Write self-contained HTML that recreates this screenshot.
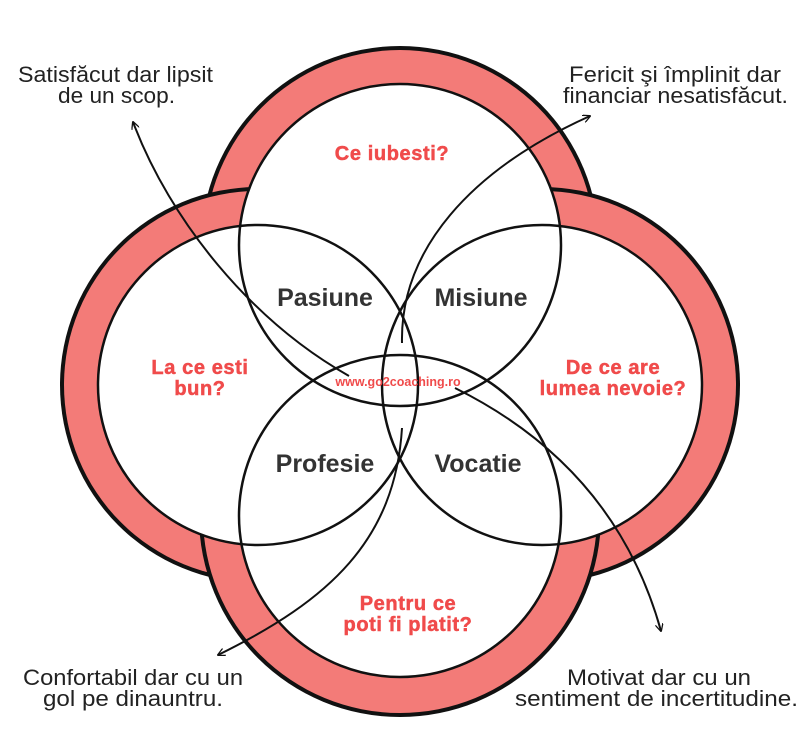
<!DOCTYPE html>
<html><head><meta charset="utf-8"><style>
html,body{margin:0;padding:0;background:#fff;}
svg{display:block;}
</style></head><body>
<svg width="800" height="742" viewBox="0 0 800 742" xmlns="http://www.w3.org/2000/svg">
<defs>
<marker id="a" viewBox="0 0 10 10" refX="9" refY="5" markerWidth="8" markerHeight="8" orient="auto-start-reverse" markerUnits="userSpaceOnUse">
<path d="M0,0 L10,5 L0,10" fill="none" stroke="#111" stroke-width="1.6"/>
</marker>
</defs>
<circle cx="400" cy="245" r="199" fill="#111"/><circle cx="400" cy="245" r="195" fill="#f37b78"/>
<circle cx="258" cy="385" r="198" fill="#111"/><circle cx="258" cy="385" r="194" fill="#f37b78"/>
<circle cx="542" cy="385" r="198" fill="#111"/><circle cx="542" cy="385" r="194" fill="#f37b78"/>
<circle cx="400" cy="516" r="201" fill="#111"/><circle cx="400" cy="516" r="197" fill="#f37b78"/>
<g fill="#fff">
<circle cx="400" cy="245" r="161"/><circle cx="258" cy="385" r="160"/>
<circle cx="542" cy="385" r="160"/><circle cx="400" cy="516" r="161"/>
</g>
<g fill="none" stroke="#111" stroke-width="2.5">
<circle cx="400" cy="245" r="161"/><circle cx="258" cy="385" r="160"/>
<circle cx="542" cy="385" r="160"/><circle cx="400" cy="516" r="161"/>
</g>
<g fill="none" stroke="#111" stroke-width="2">
<path d="M349,376 C250,320 170,220 133,122" marker-end="url(#a)"/>
<path d="M402,343 C400,250 470,170 590,116" marker-end="url(#a)"/>
<path d="M402,428 C395,540 330,600 218,655" marker-end="url(#a)"/>
<path d="M455,388 C560,440 630,520 661,631" marker-end="url(#a)"/>
</g>
<g font-family="Liberation Sans, sans-serif" font-weight="bold" text-anchor="middle">
<g fill="#333" font-size="25">
<text x="325" y="306">Pasiune</text>
<text x="481" y="306">Misiune</text>
<text x="325" y="472">Profesie</text>
<text x="478" y="472">Vocatie</text>
</g>
<g fill="#f04b4b" font-size="20" letter-spacing="0.6" stroke="#f04b4b" stroke-width="0.5">
<text x="392" y="160">Ce iubesti?</text>
<text x="200" y="374">La ce esti</text>
<text x="200" y="395">bun?</text>
<text x="613" y="374">De ce are</text>
<text x="613" y="395">lumea nevoie?</text>
<text x="408" y="610">Pentru ce</text>
<text x="408" y="631">poti fi platit?</text>
<text x="398" y="386" font-size="12.5" letter-spacing="0" stroke-width="0">www.go2coaching.ro</text>
</g>
</g>
<g font-family="Liberation Sans, sans-serif" font-size="22" fill="#222">
<text x="18" y="82" textLength="195" lengthAdjust="spacingAndGlyphs">Satisfăcut dar lipsit</text>
<text x="58" y="103" textLength="117" lengthAdjust="spacingAndGlyphs">de un scop.</text>
<text x="569" y="82" textLength="212" lengthAdjust="spacingAndGlyphs">Fericit şi împlinit dar</text>
<text x="563" y="103" textLength="225" lengthAdjust="spacingAndGlyphs">financiar nesatisfăcut.</text>
<text x="23" y="685" textLength="220" lengthAdjust="spacingAndGlyphs">Confortabil dar cu un</text>
<text x="43" y="706" textLength="180" lengthAdjust="spacingAndGlyphs">gol pe dinauntru.</text>
<text x="567" y="685" textLength="184" lengthAdjust="spacingAndGlyphs">Motivat dar cu un</text>
<text x="515" y="706" textLength="283" lengthAdjust="spacingAndGlyphs">sentiment de incertitudine.</text>
</g>
</svg>
</body></html>
